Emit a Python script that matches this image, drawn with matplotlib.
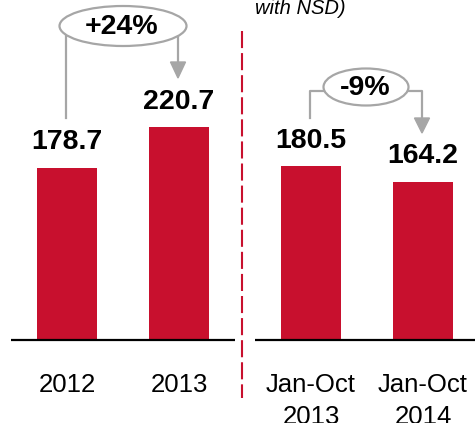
import matplotlib
matplotlib.use("Agg")
import matplotlib.pyplot as plt
from matplotlib.patches import Ellipse, Polygon

# Data
categories = ["2012", "2013", "Jan-Oct\n2013", "Jan-Oct\n2014"]
values = [178.7, 220.7, 180.5, 164.2]
change_labels = ["+24%", "-9%"]
subtitle = "with NSD)"

BAR_RED = "#C8102E"
GREY = "#A6A6A6"
FONT = ["Liberation Sans", "DejaVu Sans"]

W, H = 475, 423
fig = plt.figure(figsize=(W / 100, H / 100), dpi=100)

# Bar axes: x in pixel units, y in data units (baseline 83 px above bottom)
scale = 0.963
base_px = 83
ax = fig.add_axes([0, 0, 1, 1])
ax.set_xlim(0, W)
ax.set_ylim(-base_px / scale, (H - base_px) / scale)
ax.axis("off")

# Two groups of two bars
group_starts = [67, 311]
step = 112
xs = [group_starts[i // 2] + step * (i % 2) for i in range(len(values))]
ax.bar(xs, values, width=60, color=BAR_RED, zorder=2)

# Value labels above bars
for x, v in zip(xs, values):
    ax.annotate(f"{v:.1f}", (x, v), xytext=(0, 9), textcoords="offset points",
                ha="center", va="bottom", fontsize=20.5, fontweight="bold",
                family=FONT, color="black")

# Baselines for each group
ax.hlines(0, 11, 235, color="black", lw=1.6, zorder=3)
ax.hlines(0, 255, W, color="black", lw=1.6, zorder=3)

# Overlay in pixel coordinates (y downward) for layout elements
ov = fig.add_axes([0, 0, 1, 1])
ov.set_xlim(0, W)
ov.set_ylim(H, 0)
ov.axis("off")
ov.patch.set_alpha(0)

# Category labels, one text per line so the first lines share a baseline
for x, c in zip(xs, categories):
    for i, line in enumerate(c.split("\n")):
        ov.text(x, 392 + 32 * i, line, ha="center", va="baseline",
                fontsize=18.5, family=FONT, color="black")

# Dashed separator
ov.plot([242, 242], [31, 398], color=BAR_RED, lw=1.5,
        linestyle=(0, (8.2, 2.4)), solid_capstyle="butt")

# Subtitle fragment
ov.text(255, 14, subtitle, ha="left", va="baseline", fontsize=14.5,
        style="italic", family=FONT, color="black")


def arrow_head(x, y_top, y_tip):
    ov.add_patch(Polygon([[x - 7.5, y_top], [x + 7.5, y_top], [x, y_tip]],
                         closed=True, color=GREY, zorder=4))


# +24% annotation
ov.plot([xs[0] - 1, xs[0] - 1], [26, 118], color=GREY, lw=1.6, zorder=3)
ov.plot([xs[1] - 1, xs[1] - 1], [26, 63], color=GREY, lw=1.6, zorder=3)
arrow_head(xs[1] - 1, 62, 78)
ov.add_patch(Ellipse((123, 26), 127, 40, facecolor="white", edgecolor=GREY,
                     lw=1.6, zorder=5))
ov.text(122, 27, change_labels[0], ha="center", va="center", fontsize=20.5,
        fontweight="bold", family=FONT, zorder=6)

# -9% annotation
ov.plot([xs[2] - 1, xs[2] - 1, xs[3] - 1, xs[3] - 1], [118, 91, 91, 119],
        color=GREY, lw=1.6, zorder=3)
arrow_head(xs[3] - 1, 118, 133)
ov.add_patch(Ellipse((366, 87), 85, 37, facecolor="white", edgecolor=GREY,
                     lw=1.6, zorder=5))
ov.text(365, 88, change_labels[1], ha="center", va="center", fontsize=20.5,
        fontweight="bold", family=FONT, zorder=6)

fig.savefig("out.png", dpi=100)
